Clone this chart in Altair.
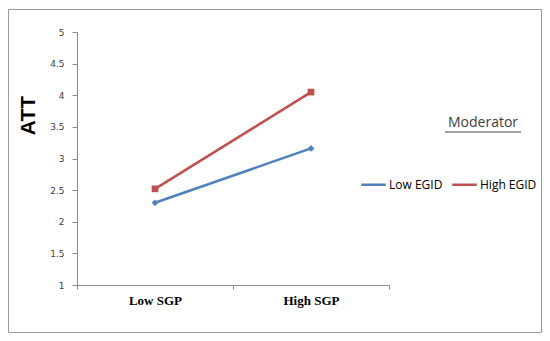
import altair as alt
import pandas as pd

sgp_levels = ["Low SGP", "High SGP"]
groups = ["Low EGID", "High EGID"]
low_egid = [2.30, 3.16]
high_egid = [2.52, 4.05]
colors = ["#4F81BD", "#C0504D"]
shapes = ["diamond", "square"]
y_ticks = [1.0, 1.5, 2.0, 2.5, 3.0, 3.5, 4.0, 4.5, 5.0]

rows = []
for g, vals in zip(groups, [low_egid, high_egid]):
    for s, v in zip(sgp_levels, vals):
        rows.append({"sgp": s, "group": g, "att": v})
df = pd.DataFrame(rows)

x_axis = alt.Axis(labelAngle=0, labelFont="Liberation Serif", labelFontWeight="bold",
                  labelFontSize=13, labelColor="#000000", domainColor="#8c8c8c",
                  tickColor="#8c8c8c", tickSize=4, tickBand="extent", labelPadding=5,
                  grid=False)
y_axis = alt.Axis(values=y_ticks, format="~g", labelOverlap=False, grid=False,
                  labelFont="DejaVu Sans", labelFontSize=9,
                  labelColor="#404040", domainColor="#8c8c8c", tickColor="#8c8c8c",
                  tickSize=5, labelPadding=8, titleFont="Liberation Sans",
                  titleFontWeight="bold", titleFontSize=21, titleColor="#000000",
                  titleAngle=270, titleAlign="center", titleBaseline="alphabetic",
                  titleX=-43, titleY=83)


def x_enc():
    return alt.X("sgp:N", sort=sgp_levels, title=None,
                 scale=alt.Scale(type="band", paddingInner=0, paddingOuter=0),
                 axis=x_axis)


def y_enc():
    return alt.Y("att:Q", title="ATT",
                 scale=alt.Scale(domain=[1, 5], nice=False, zero=False),
                 axis=y_axis)


base = alt.Chart(df)
lines = base.mark_line(strokeWidth=2.5).encode(
    x=x_enc(), y=y_enc(),
    color=alt.Color("group:N", sort=groups,
                    scale=alt.Scale(domain=groups, range=colors),
                    legend=alt.Legend(title=None, orient="none", legendX=283, legendY=139,
                                      direction="horizontal", labelFont="Open Sans",
                                      labelFontSize=12, labelColor="#000000",
                                      symbolStrokeWidth=2.5, symbolSize=600,
                                      symbolType="stroke",
                                      columnPadding=4, labelOffset=2)),
)

point_layers = []
for g, c, s in zip(groups, colors, shapes):
    point_layers.append(
        base.transform_filter(alt.datum.group == g)
        .mark_point(filled=True, opacity=1, size=45, shape=s, color=c)
        .encode(x=x_enc(), y=y_enc())
    )

frame_df = pd.DataFrame({"k": [0]})
frame = alt.Chart(frame_df).mark_rect(fill=None, stroke="#9a9a9a", strokeWidth=1, clip=False).encode(
    x=alt.value(-68.5), x2=alt.value(464.5), y=alt.value(-22.5), y2=alt.value(300.5)
)
mod_text = alt.Chart(frame_df).mark_text(text="Moderator", font="Open Sans", fontSize=14,
                                         color="#404040", align="center",
                                         baseline="alphabetic").encode(
    x=alt.value(406), y=alt.value(95)
)
underline = alt.Chart(frame_df).mark_rule(color="#404040", strokeWidth=1).encode(
    x=alt.value(368), x2=alt.value(444), y=alt.value(100)
)

chart = alt.layer(lines, *point_layers, frame, mod_text, underline).properties(
    width=312, height=253,
    autosize=alt.AutoSizeParams(type="none"),
    padding={"left": 69, "top": 24, "right": 153, "bottom": 48},
    background="white",
).configure_view(stroke=None)

chart.save("out.html", embed_options={"renderer": "svg", "actions": False})
